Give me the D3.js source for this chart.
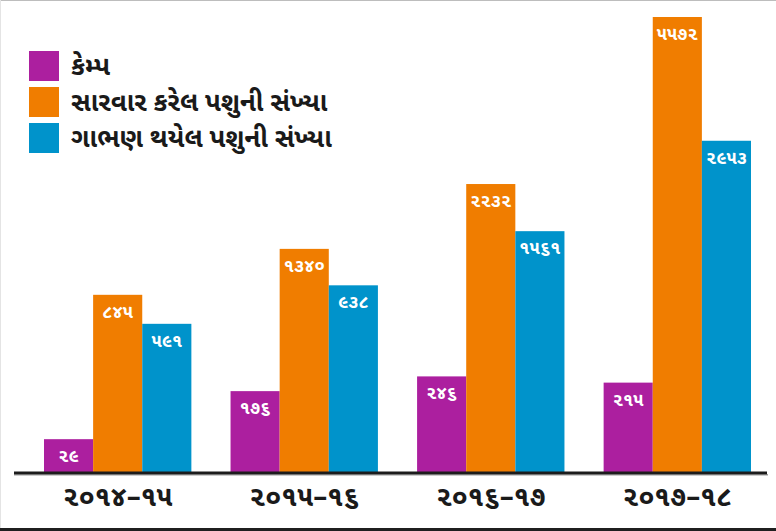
<!DOCTYPE html>
<html>
<head>
<meta charset="utf-8">
<script src="https://cdn.jsdelivr.net/npm/d3@7"></script>
<style>
  body { margin: 0; background: #fff; }
  svg { display: block; }
  text { font-family: "Noto Sans Gujarati", "Noto Sans", sans-serif; font-weight: bold; }
</style>
</head>
<body>
<div id="chart"></div>
<script>
// years shown under each group
const years = ["૨૦૧૪–૧૫", "૨૦૧૫–૧૬", "૨૦૧૬–૧૭", "૨૦૧૭–૧૮"];

// series names (legend)
const seriesNames = ["કેમ્પ", "સારવાર કરેલ પશુની સંખ્યા", "ગાભણ થયેલ પશુની સંખ્યા"];

// values per series, one per year
const camps = [29, 176, 246, 215];
const treated = [845, 1340, 2232, 5572];
const pregnant = [591, 938, 1561, 2953];

const colors = ["#ac1f9f", "#f07d00", "#0093cb"];

const width = 776, height = 531;

// gujarati digits for the labels
const gujDigits = "૦૧૨૩૪૫૬૭૮૯";
const toGuj = n => String(n).replace(/[0-9]/g, c => gujDigits[+c]);

const series = [camps, treated, pregnant];
const rows = [];
years.forEach((yr, i) => {
  series.forEach((s, j) => rows.push({ year: yr, key: j, value: s[i] }));
});

const svg = d3.select("#chart").append("svg")
    .attr("width", width)
    .attr("height", height);

// frame
svg.append("line").attr("x1", 0).attr("x2", width).attr("y1", 0.5).attr("y2", 0.5)
   .attr("stroke", "#bdbdbd");
svg.append("line").attr("x1", 0.5).attr("x2", 0.5).attr("y1", 0).attr("y2", height)
   .attr("stroke", "#e4e4e4");
svg.append("rect").attr("x", 0).attr("y", 528).attr("width", width).attr("height", 3)
   .attr("fill", "#1f1f1f");

const baseY = 472;

const xScale = d3.scaleBand()
  .domain(years)
  .range([44, 751])
  .paddingInner(0.21)
  .paddingOuter(0);

const xSub = d3.scaleBand()
  .domain([0, 1, 2])
  .range([0, xScale.bandwidth()]);

// bars in the picture are not linear; a square-root scale follows them best
const yScale = d3.scaleSqrt()
  .domain([0, d3.max(treated)])
  .range([baseY, 17]);

const bars = svg.append("g")
  .selectAll("g")
  .data(rows)
  .join("g")
    .attr("transform", d => `translate(${xScale(d.year) + xSub(d.key)},0)`);

bars.append("rect")
    .attr("y", d => yScale(d.value))
    .attr("width", xSub.bandwidth())
    .attr("height", d => baseY - yScale(d.value))
    .attr("fill", d => colors[d.key]);

bars.append("text")
    .attr("x", xSub.bandwidth() / 2)
    .attr("y", d => yScale(d.value) + 23)
    .attr("text-anchor", "middle")
    .attr("fill", "#fff")
    .attr("font-size", 18)
    .text(d => toGuj(d.value));

// axis base line
svg.append("rect").attr("x", 14).attr("y", baseY + 2).attr("width", 754).attr("height", 1.5)
   .attr("fill", "#9a9a9a");
svg.append("rect").attr("x", 14).attr("y", baseY - 0.5).attr("width", 753).attr("height", 2.8)
   .attr("fill", "#1c1c1c");

// year labels
const xAxis = d3.axisBottom(xScale).tickSize(0).tickPadding(0);
const axisG = svg.append("g")
  .attr("transform", `translate(0,${baseY})`)
  .call(xAxis);
axisG.select(".domain").remove();
axisG.selectAll("text")
  .attr("dy", null)
  .attr("y", 34)
  .attr("font-size", 28)
  .attr("fill", "#1a1a1a")
  .style("font-family", "'Noto Sans Gujarati', 'Noto Sans', sans-serif")
  .style("font-weight", "bold");

// legend
const legend = svg.append("g")
  .selectAll("g")
  .data(seriesNames)
  .join("g")
    .attr("transform", (d, i) => `translate(29,${51 + i * 36})`);

legend.append("rect")
  .attr("width", 30)
  .attr("height", 30)
  .attr("fill", (d, i) => colors[i]);

legend.append("text")
  .attr("x", 42)
  .attr("y", 24)
  .attr("font-size", 26)
  .attr("fill", "#1a1a1a")
  .text(d => d);
</script>
</body>
</html>
